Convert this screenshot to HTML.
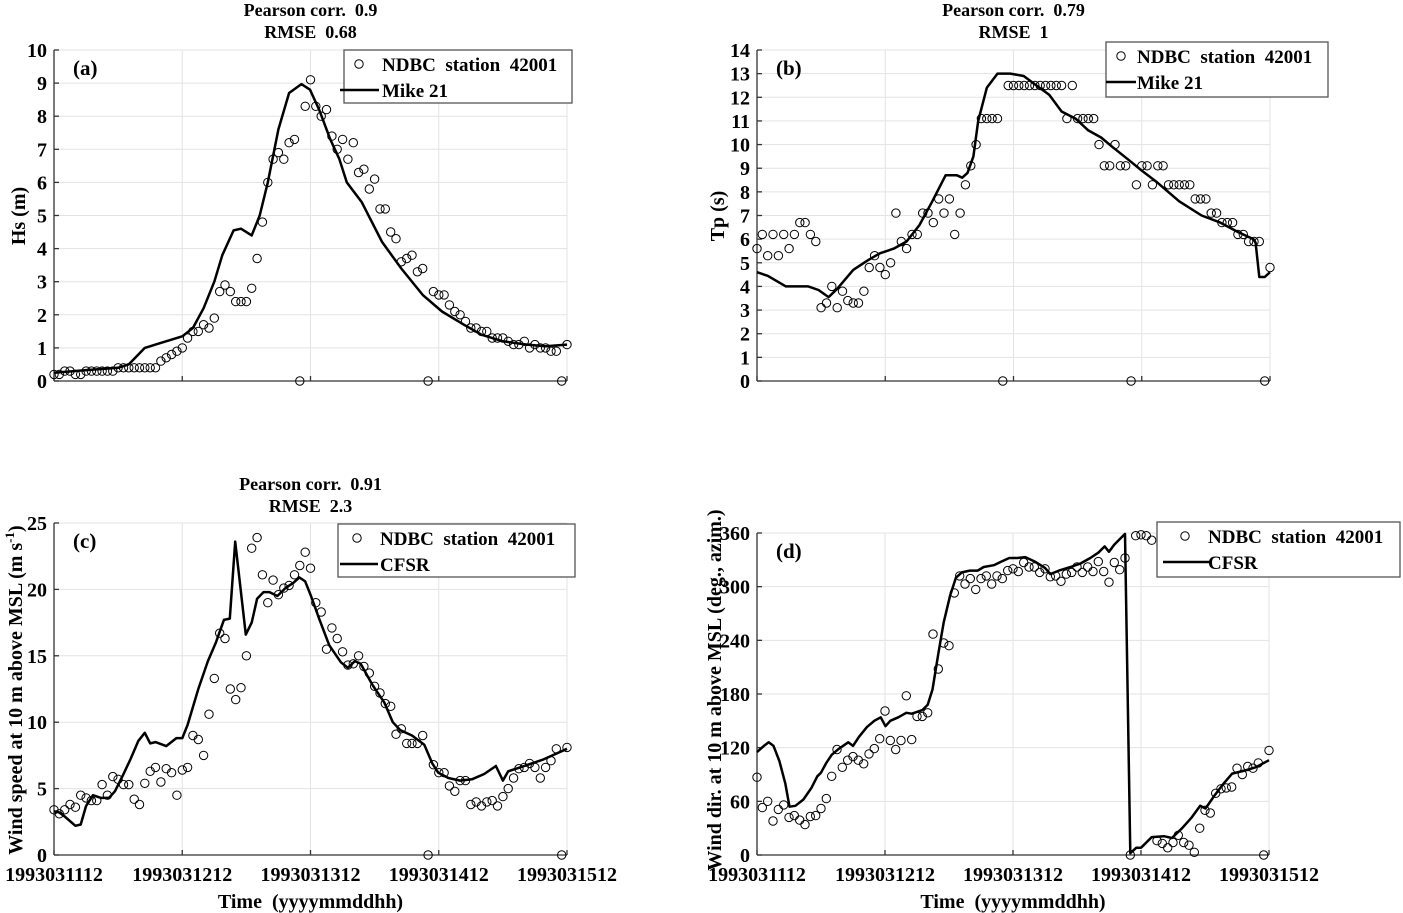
<!DOCTYPE html>
<html><head><meta charset="utf-8">
<style>
html,body{margin:0;padding:0;background:#fff;}
svg{display:block;font-family:"Liberation Serif",serif;font-weight:bold;}
svg text{white-space:pre;}
</style></head>
<body>
<svg id="fig" width="1403" height="913" viewBox="0 0 1403 913" xmlns="http://www.w3.org/2000/svg" xml:space="preserve"></svg>
<script>
// ---------- DATA ----------
// observations: hourly from 1993031112 (hour 0) to 1993031512 (hour 96)
const obsHs = [0.2,0.2,0.3,0.3,0.2,0.2,0.3,0.3,0.3,0.3,0.3,0.3,
0.4,0.4,0.4,0.4,0.4,0.4,0.4,0.4,
0.6,0.7,0.8,0.9,1.0,1.3,1.5,1.5,1.7,1.6,1.9,2.7,2.9,2.7,2.4,2.4,2.4,2.8,3.7,4.8,6.0,6.7,6.9,6.7,7.2,7.3,0,8.3,9.1,8.3,8.0,8.2,7.4,7.0,7.3,6.7,7.2,6.3,6.4,5.8,6.1,5.2,5.2,4.5,4.3,3.6,3.7,3.8,3.3,3.4,0,2.7,2.6,2.6,2.3,2.1,2.0,1.8,1.6,1.6,1.5,1.5,1.3,1.3,1.3,1.2,1.1,1.1,1.2,1.0,1.1,1.0,1.0,0.9,0.9,0,1.1];
const modHsHours = [0,6,12,14,17,19,24,26,28,30,31.5,33.6,35,37,38.5,40,42,44,46.3,47.9,49.6,51.7,53.4,54.8,57.6,61.4,65,69,72.6,76.7,80,84,88.5,92,96];
const modHs = [0.25,0.33,0.4,0.5,1.0,1.1,1.35,1.6,2.2,3.0,3.8,4.55,4.6,4.4,5.0,6.0,7.6,8.7,8.97,8.8,8.2,7.3,6.7,6.0,5.4,4.2,3.4,2.6,2.1,1.7,1.4,1.2,1.1,1.05,1.1];

const obsTp = [5.6,6.2,5.3,6.2,5.3,6.2,5.6,6.2,6.7,6.7,6.2,5.9,3.1,3.3,4.0,3.1,3.8,3.4,3.3,3.3,3.8,4.8,5.3,4.8,4.5,5.0,7.1,5.9,5.6,6.2,6.2,7.1,7.1,6.7,7.7,7.1,7.7,6.2,7.1,8.3,9.1,10.0,11.1,11.1,11.1,11.1,0,
12.5,12.5,12.5,12.5,12.5,12.5,12.5,12.5,12.5,12.5,12.5,11.1,12.5,11.1,11.1,11.1,11.1,10.0,9.1,9.1,10.0,9.1,9.1,0,8.3,9.1,9.1,8.3,9.1,9.1,8.3,8.3,8.3,8.3,8.3,7.7,7.7,7.7,7.1,7.1,6.7,6.7,6.7,6.2,6.2,5.9,5.9,5.9,0,4.8];
const modTpHours = [0,2,5.4,9.6,11.5,13.4,15,18,20.7,23,25.6,28,30.4,32.8,35.3,37.4,38.4,39.4,40.5,41.4,43,45,47.4,49.9,52.3,54.7,57,59.6,62,64.4,66.5,69.3,72,74.9,79,83.2,86.7,90,92.9,93.3,94,95,96];
const modTp = [4.6,4.45,4.0,4.0,3.85,3.55,3.9,4.7,5.1,5.4,5.6,5.9,6.6,7.6,8.7,8.7,8.6,8.8,9.5,11.0,12.4,13.0,13.0,12.9,12.5,12.1,11.4,11.1,10.6,10.3,9.9,9.4,8.9,8.4,7.6,7.0,6.7,6.3,6.0,5.85,4.4,4.4,4.6];

const obsWs = [3.4,3.1,3.4,3.8,3.6,4.5,4.3,4.1,4.1,5.3,4.5,5.9,5.7,5.3,5.3,4.2,3.8,5.4,6.3,6.6,5.5,6.5,6.2,4.5,6.4,6.6,9.0,8.7,7.5,10.6,13.3,16.7,16.3,12.5,11.7,12.6,15.0,23.1,23.9,21.1,19.0,20.7,19.6,20.1,20.3,21.1,21.8,22.8,21.6,19.0,18.3,15.5,17.1,16.3,15.3,14.3,14.4,15.0,14.2,13.7,12.7,12.2,11.4,11.2,9.1,9.5,8.4,8.4,8.4,9.0,0,6.8,6.2,6.2,5.2,4.8,5.6,5.6,3.8,4.0,3.7,4.0,4.1,3.7,4.4,5.0,5.8,6.5,6.6,6.9,6.6,5.8,6.6,7.1,8.0,0,8.1];
const modWsHours = [0,1,2,4,5,6,7.3,8.8,10.3,11.4,12.9,14.3,15.8,17,18,19,21,22.9,24,25,27,28.8,30.3,31.8,32.9,33.9,35.9,37,38,39.2,40.3,41.8,43.3,44.8,45.9,47,48.1,49.6,51.5,53.7,55,56.3,57.4,59.6,61.8,63.4,64.8,67,69.3,70.8,71.9,73.8,76,78.2,80.5,82.7,84,85,87.2,89.4,91.6,93.8,96];
const modWs = [3.3,3.2,2.9,2.2,2.3,3.7,4.5,4.3,4.3,4.8,6.0,7.2,8.6,9.2,8.4,8.5,8.2,8.8,8.8,9.8,12.5,14.6,16.0,17.7,17.8,23.6,16.6,17.5,19.3,19.8,19.8,19.5,20.1,20.5,20.9,20.6,19.5,17.8,15.8,14.5,14.1,14.6,14.4,12.8,11.5,10.0,9.4,9.0,8.3,6.9,6.2,5.8,5.6,5.7,6.1,6.7,5.6,6.3,6.6,6.9,7.2,7.6,8.0];

const obsWd = [87,53,60,38,51,56,42,44,39,34,43,44,52,63,88,118,98,106,110,106,102,113,119,130,161,128,118,128,178,129,155,155,159,247,208,237,234,293,312,303,309,297,309,312,303,312,309,318,320,317,327,322,322,316,320,311,312,306,314,316,322,316,322,317,328,317,305,327,319,332,0,357,358,357,352,16,13,8,14,22,14,11,3,30,50,47,69,74,75,76,97,90,99,97,103,0,117];
const modWdHours = [0,1.3,2.2,3.1,4.2,5.3,6.1,7.2,8.7,10.2,11.3,12,13,14,15.4,17.1,18,19.1,20.6,22,23.2,24.1,25,26.5,28,29,30,31,32,32.9,34,35,36.2,37.3,38.4,39.9,41.4,42.5,44.4,45.8,47.3,48.8,50.3,52.1,54,55,56.6,58.8,60.7,62.5,64,65.2,66,67,69,70,71.1,72,74,76.3,77.8,79.7,81.5,83.1,84.1,85.6,87.5,89.1,91.2,93.5,96];
const modWd = [115,122,126,122,105,80,54,55,62,75,88,92,103,112,119,126,122,132,143,150,154,144,150,154,159,158,160,162,168,185,225,260,290,310,316,318,318,322,324,328,332,332,333,328,321,314,318,322,326,332,338,345,339,347,359,2,8,8,20,21,19,30,42,55,52,65,80,91,94,98,106];

const xTickLabels = ["1993031112","1993031212","1993031312","1993031412","1993031512"];
const xTickHours = [0,24,48,72,96];

// ---------- DRAW ----------
const NS = "http://www.w3.org/2000/svg";
const svg = document.getElementById("fig");
function mk(tag, attrs, parent){
  const e = document.createElementNS(NS, tag);
  for (const k in attrs) e.setAttribute(k, attrs[k]);
  (parent||svg).appendChild(e);
  return e;
}
function txt(str, x, y, size, anchor, parent){
  const t = mk("text", {x:x, y:y, "font-size":size, "text-anchor":anchor||"start", fill:"#000"}, parent);
  t.textContent = str;
  return t;
}

function panel(cfg){
  const g = mk("g", {});
  
  
  const xs = h => cfg.x0 + (h/96)*(cfg.x1-cfg.x0);
  const ys = v => cfg.yb + (v-cfg.ymin)/(cfg.ymax-cfg.ymin)*(cfg.yt-cfg.yb);
  const grid = mk("g", {stroke:"#e3e3e3","stroke-width":1}, g);
  
  
  cfg.yticks.forEach(v => { if (v!==cfg.ymin) mk("line",{x1:cfg.x0,x2:cfg.x1,y1:ys(v),y2:ys(v)},grid); });
  xTickHours.forEach(h => { if (h!==0) mk("line",{x1:xs(h),x2:xs(h),y1:cfg.yb,y2:cfg.yt},grid); });
  const ax = mk("g", {stroke:"#333","stroke-width":1.3}, g);
  
  
  mk("line",{x1:cfg.x0,x2:cfg.x0,y1:cfg.yb,y2:cfg.yt},ax);
  mk("line",{x1:cfg.x0,x2:cfg.x1,y1:cfg.yb,y2:cfg.yb},ax);
  cfg.yticks.forEach(v => mk("line",{x1:cfg.x0,x2:cfg.x0+5,y1:ys(v),y2:ys(v)},ax));
  xTickHours.forEach(h => mk("line",{x1:xs(h),x2:xs(h),y1:cfg.yb,y2:cfg.yb-5},ax));
  const yl = mk("g", {}, g);
  
  
  cfg.yticks.forEach(v => txt(String(v), cfg.x0-7, ys(v)+7, 20, "end", yl));
  if (cfg.xlabels){
    const xl = mk("g", {}, g);
    
    
    xTickHours.forEach((h,i) => txt(xTickLabels[i], xs(h), cfg.yb+26, 20, "middle", xl));
    const xt = txt("Time  (yyyymmddhh)", (cfg.x0+cfg.x1)/2, 908, 20, "middle", g);
    
    
  }
  const yt = mk("text", {transform:`translate(${cfg.ytx},${cfg.yty}) rotate(-90)`, "font-size":20, "text-anchor":"middle"}, g);
  
  
  yt.innerHTML = cfg.ytitle;
  let d = "";
  cfg.mh.forEach((h,i) => { d += (i?"L":"M") + xs(h).toFixed(1) + " " + ys(cfg.mv[i]).toFixed(1); });
  const ln = mk("path", {d:d, fill:"none", stroke:"#000", "stroke-width":2.5, "stroke-linejoin":"round"}, g);
  
  
  const og = mk("g", {fill:"none", stroke:"#000", "stroke-width":1}, g);
  
  
  cfg.obs.forEach((v,h) => {
    const c = mk("circle", {cx:xs(h).toFixed(1), cy:ys(v).toFixed(1), r:4.2}, og);
    
    
  });
  const pl = txt(cfg.letter, cfg.x0+19, cfg.yt+25, 21, "start", g);
  
  
  if (cfg.title){
    const t1 = txt(cfg.title[0], (cfg.x0+cfg.x1)/2, cfg.titleY, 18, "middle", g);
    
    
    const t2 = txt(cfg.title[1], (cfg.x0+cfg.x1)/2, cfg.titleY+22, 18, "middle", g);
    
    
  }
  const L = cfg.leg;
  const lg = mk("g", {}, g);
  
  
  mk("rect", {x:L.x, y:L.y, width:L.w, height:L.h, fill:"#fff", stroke:"#555", "stroke-width":1.3}, lg);
  const lc = mk("circle", {cx:L.cx, cy:L.y+14, r:4.2, fill:"none", stroke:"#000"}, lg);
  
  
  const l1 = txt("NDBC  station  42001", L.tx, L.y+21, 19, "start", lg);
  
  
  mk("line", {x1:L.lx1, x2:L.lx2, y1:L.y+40, y2:L.y+40, stroke:"#000", "stroke-width":2.5}, lg);
  const l2 = txt(L.model, L.tx, L.y+47, 19, "start", lg);
  
  
}

panel({name:"panel-a-hs", x0:54, x1:567, yb:381, yt:50, ymin:0, ymax:10,
  yticks:[0,1,2,3,4,5,6,7,8,9,10], obs:obsHs, mh:modHsHours, mv:modHs, letter:"(a)",
  ytitle:"Hs (m)", ytx:25, yty:216, title:["Pearson corr.  0.9","RMSE  0.68"], titleY:16,
  leg:{x:344,y:50,w:228,h:53,cx:359,tx:382,lx1:340,lx2:379,model:"Mike 21"}});
panel({name:"panel-b-tp", x0:757, x1:1270, yb:381, yt:50, ymin:0, ymax:14,
  yticks:[0,1,2,3,4,5,6,7,8,9,10,11,12,13,14], obs:obsTp, mh:modTpHours, mv:modTp, letter:"(b)",
  ytitle:"Tp (s)", ytx:724, yty:216, title:["Pearson corr.  0.79","RMSE  1"], titleY:16,
  leg:{x:1106,y:42,w:222,h:55,cx:1121,tx:1137,lx1:1106,lx2:1136,model:"Mike 21"}});
panel({name:"panel-c-wind-speed", x0:54, x1:567, yb:855, yt:523, ymin:0, ymax:25,
  yticks:[0,5,10,15,20,25], obs:obsWs, mh:modWsHours, mv:modWs, letter:"(c)", xlabels:true,
  ytitle:'Wind speed at 10 m above MSL (m s<tspan dy="-8" font-size="13">-1</tspan><tspan dy="8">)</tspan>', ytx:22, yty:690,
  title:["Pearson corr.  0.91","RMSE  2.3"], titleY:490,
  leg:{x:338,y:524,w:237,h:53,cx:357,tx:380,lx1:340,lx2:378,model:"CFSR"}});
panel({name:"panel-d-wind-dir", x0:757, x1:1269, yb:855, yt:533, ymin:0, ymax:360,
  yticks:[0,60,120,180,240,300,360], obs:obsWd, mh:modWdHours, mv:modWd, letter:"(d)", xlabels:true,
  ytitle:"Wind dir. at 10 m above MSL (deg., azim.)", ytx:721, yty:690,
  leg:{x:1157,y:522,w:243,h:55,cx:1185,tx:1208,lx1:1163,lx2:1210,model:"CFSR"}});
</script>
</body></html>
